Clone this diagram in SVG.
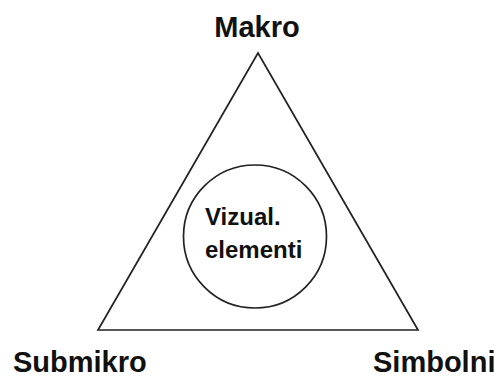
<svg xmlns="http://www.w3.org/2000/svg" width="495" height="377" viewBox="0 0 495 377">
  <style>
    .shape { fill: none; stroke: #222; stroke-width: 1.7; }
    .label { font-family: "Liberation Sans", Arial, sans-serif; font-weight: bold; fill: #111; }
  </style>
  <rect width="495" height="377" fill="#fff"/>
  <g id="connectors">
    <polygon class="shape" points="258,53 98,330 418,330"/>
  </g>
  <g id="makro">
    <text class="label" x="257" y="37" font-size="29" text-anchor="middle">Makro</text>
  </g>
  <g id="submikro">
    <text class="label" x="13" y="372" font-size="29">Submikro</text>
  </g>
  <g id="simbolni">
    <text class="label" x="373" y="372" font-size="29">Simbolni</text>
  </g>
  <g id="vizual-elementi">
    <circle class="shape" cx="255" cy="236.5" r="71.5" stroke-width="1.5"/>
    <text class="label" x="205" y="225" font-size="24">Vizual.</text>
    <text class="label" x="205" y="258" font-size="24">elementi</text>
  </g>
</svg>
